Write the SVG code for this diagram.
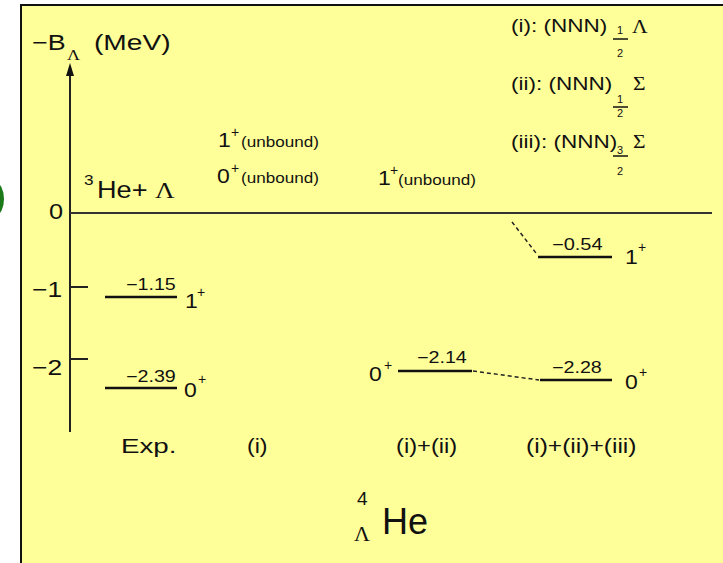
<svg xmlns="http://www.w3.org/2000/svg" width="723" height="563" viewBox="0 0 723 563">
<defs>
<style>
text{font-family:"Liberation Sans",Arial,sans-serif;fill:#111}
.g{font-family:"Liberation Serif","Times New Roman",serif}
.lvl{stroke:#111;stroke-width:2.6}
.dash{stroke:#222;stroke-width:1.5;stroke-dasharray:4 3;fill:none}
.val{font-size:16px}
.jp{font-size:20px}
.sup{font-size:14px}
.unb{font-size:14px}
.leg{font-size:18px}
.frac{font-size:11px}
.col{font-size:21px}
.ax{font-size:22px}
</style>
</defs>
<rect x="0" y="0" width="723" height="563" fill="#ffffff"/>
<ellipse cx="-4" cy="199" rx="8" ry="16" fill="#1a7a1a"/>
<rect x="21" y="5" width="705" height="562" fill="#ffff99" stroke="#111" stroke-width="2"/>

<g id="axis">
<line x1="70" y1="432" x2="70" y2="72" stroke="#222" stroke-width="2"/>
<polygon points="70,63 66,76 74,76" fill="#111"/>
<line x1="70" y1="213" x2="712" y2="213" stroke="#333" stroke-width="2"/>
<line x1="71" y1="287" x2="88" y2="287" stroke="#222" stroke-width="2"/>
<line x1="71" y1="359" x2="88" y2="359" stroke="#222" stroke-width="2"/>
<text class="ax" transform="translate(32,50) scale(1.22,1)">−B</text>
<text class="g" transform="translate(67,60) scale(1.2,1)" font-size="15">Λ</text>
<text class="ax" transform="translate(94,50) scale(1.28,1)">(MeV)</text>
<text class="ax" font-size="21" transform="translate(49,219) scale(1.15,1)">0</text>
<text class="ax" font-size="21" transform="translate(32,297) scale(1.2,1)">−1</text>
<text class="ax" font-size="21" transform="translate(32,375) scale(1.2,1)">−2</text>
</g>

<g id="threshold">
<text transform="translate(84,185) scale(1.15,1)" font-size="15">3</text>
<text transform="translate(97,198) scale(1.18,1)" font-size="23">He+ <tspan class="g">Λ</tspan></text>
</g>

<g id="exp">
<line class="lvl" x1="105" y1="297" x2="177" y2="297"/>
<text class="val" transform="translate(126,290) scale(1.23,1)">−1.15</text>
<text class="jp" transform="translate(185,308) scale(1.15,1)">1</text>
<text class="sup" x="197" y="297">+</text>
<line class="lvl" x1="105" y1="388" x2="177" y2="388"/>
<text class="val" transform="translate(126,382) scale(1.23,1)">−2.39</text>
<text class="jp" transform="translate(184,397) scale(1.15,1)">0</text>
<text class="sup" x="198" y="384">+</text>
<text class="col" font-size="22" transform="translate(121,453) scale(1.32,1)">Exp.</text>
</g>

<g id="model-i">
<text class="jp" transform="translate(218,147) scale(1.15,1)">1</text>
<text class="sup" x="231" y="137">+</text>
<text class="unb" transform="translate(241,147) scale(1.22,1)">(unbound)</text>
<text class="jp" transform="translate(217,183) scale(1.15,1)">0</text>
<text class="sup" x="231" y="173">+</text>
<text class="unb" transform="translate(241,183) scale(1.22,1)">(unbound)</text>
<text class="col" transform="translate(247,453) scale(1.1,1)">(i)</text>
</g>

<g id="model-i-ii">
<text class="jp" transform="translate(378,185) scale(1.15,1)">1</text>
<text class="sup" x="390" y="175">+</text>
<text class="unb" transform="translate(398,185) scale(1.22,1)">(unbound)</text>
<text class="jp" transform="translate(369,381) scale(1.15,1)">0</text>
<text class="sup" x="384" y="370">+</text>
<line class="lvl" x1="398" y1="371" x2="472" y2="371"/>
<text class="val" transform="translate(417,363) scale(1.23,1)">−2.14</text>
<text class="col" transform="translate(396,453) scale(1.13,1)">(i)+(ii)</text>
</g>

<g id="model-i-ii-iii">
<line class="lvl" x1="538" y1="257" x2="612" y2="257"/>
<text class="val" transform="translate(552,250) scale(1.25,1)">−0.54</text>
<text class="jp" transform="translate(625,264) scale(1.15,1)">1</text>
<text class="sup" x="638" y="252">+</text>
<line class="lvl" x1="540" y1="380" x2="612" y2="380"/>
<text class="val" transform="translate(552,373) scale(1.23,1)">−2.28</text>
<text class="jp" transform="translate(625,389) scale(1.15,1)">0</text>
<text class="sup" x="639" y="377">+</text>
<text class="col" transform="translate(526,453) scale(1.17,1)">(i)+(ii)+(iii)</text>
</g>

<g id="connectors">
<line class="dash" x1="512" y1="222" x2="536" y2="253"/>
<line class="dash" x1="473" y1="371" x2="539" y2="380"/>
</g>

<g id="legend">
<text class="leg" transform="translate(511,32) scale(1.25,1)">(i): (NNN)</text>
<text class="frac" x="620" y="34" text-anchor="middle">1</text>
<line x1="613" y1="39" x2="628" y2="39" stroke="#111" stroke-width="1.5"/>
<text class="frac" x="620" y="57" text-anchor="middle">2</text>
<text class="g" transform="translate(632,33) scale(1.2,1)" font-size="18">Λ</text>

<text class="leg" transform="translate(511,90) scale(1.25,1)">(ii): (NNN)</text>
<text class="frac" x="620" y="103" text-anchor="middle">1</text>
<line x1="613" y1="107" x2="628" y2="107" stroke="#111" stroke-width="1.5"/>
<text class="frac" x="620" y="117" text-anchor="middle">2</text>
<text class="g" transform="translate(633,90) scale(1.2,1)" font-size="18">Σ</text>

<text class="leg" transform="translate(511,148) scale(1.25,1)">(iii): (NNN)</text>
<text class="frac" x="620" y="154" text-anchor="middle">3</text>
<line x1="613" y1="156" x2="628" y2="156" stroke="#111" stroke-width="1.5"/>
<text class="frac" x="620" y="175" text-anchor="middle">2</text>
<text class="g" transform="translate(633,148) scale(1.2,1)" font-size="18">Σ</text>
</g>

<g id="title">
<text x="357" y="505" font-size="19">4</text>
<text class="g" x="354" y="541" font-size="22">Λ</text>
<text x="382" y="534" font-size="36">He</text>
</g>
</svg>
